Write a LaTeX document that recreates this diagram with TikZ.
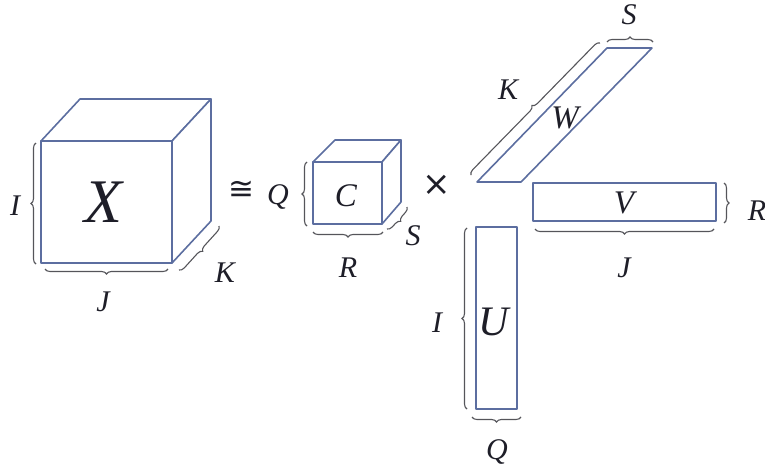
\documentclass[tikz,border=0pt]{standalone}
\usepackage{fontspec}
\setmainfont{Liberation Serif}
\newfontfamily\symfont{DejaVu Sans}
\usetikzlibrary{decorations.pathreplacing}
\definecolor{edge}{RGB}{92,110,160}
\definecolor{brc}{RGB}{85,85,90}
\definecolor{ink}{RGB}{30,30,40}
\tikzset{
  face/.style={draw=edge, line width=1.6pt, fill=white, line join=round},
  brc/.style={draw=brc, line width=1.1pt, decorate, decoration={brace, amplitude=5pt}},
  lab/.style={text=ink, inner sep=0pt, font=\fontsize{30}{30}\selectfont\itshape},
}
\begin{document}
\begin{tikzpicture}[x=1pt,y=-1pt]
\useasboundingbox (0,0) rectangle (765,471);
% ---- X cube
\coordinate (xa) at (41,141); \coordinate (xb) at (172,141);
\coordinate (xc) at (172,263); \coordinate (xd) at (41,263);
\coordinate (xe) at (80,99); \coordinate (xf) at (211,99); \coordinate (xg) at (211,221);
\draw[face] (xa) -- (xe) -- (xf) -- (xb) -- cycle;
\draw[face] (xb) -- (xf) -- (xg) -- (xc) -- cycle;
\draw[face] (xa) rectangle (xc);
\node[lab, font=\fontsize{62}{62}\selectfont\itshape] (X) at (103,202) {X};
\coordinate (bi1) at (36,264); \coordinate (bi2) at (36,143);
\draw[brc] (bi1) -- (bi2);
\node[lab] (lI) at (15,206) {I};
\coordinate (bj1) at (168,269); \coordinate (bj2) at (45,269);
\draw[brc] (bj1) -- (bj2);
\node[lab] (lJ) at (103,302) {J};
\coordinate (bk1) at (219,226); \coordinate (bk2) at (179,270);
\draw[brc] (bk1) -- (bk2);
\node[lab] (lK) at (225,273) {K};
% ---- congruent
\node[text=ink, inner sep=0pt, font=\fontsize{31}{31}\symfont] (cong) at (241,190) {≅};
% ---- C cube
\coordinate (ca) at (313,162); \coordinate (cb) at (382,162);
\coordinate (cc) at (382,224); \coordinate (cd) at (313,224);
\coordinate (ce) at (335,140); \coordinate (cf) at (401,140); \coordinate (cg) at (401,202);
\draw[face] (ca) -- (ce) -- (cf) -- (cb) -- cycle;
\draw[face] (cb) -- (cf) -- (cg) -- (cc) -- cycle;
\draw[face] (ca) rectangle (cc);
\node[lab, font=\fontsize{33}{33}\selectfont\itshape] (C) at (346,196) {C};
\coordinate (bq1) at (307,226); \coordinate (bq2) at (307,162);
\draw[brc] (bq1) -- (bq2);
\node[lab] (lQ) at (278,197) {Q};
\coordinate (br1) at (383,232); \coordinate (br2) at (313,232);
\draw[brc] (br1) -- (br2);
\node[lab] (lR) at (348,268) {R};
\coordinate (bs1) at (407,207); \coordinate (bs2) at (387,229);
\draw[brc] (bs1) -- (bs2);
\node[lab] (lS) at (413,236) {S};
% ---- times
\node[text=ink, inner sep=0pt, font=\fontsize{34}{34}\symfont] (times) at (437,185) {×};
% ---- W
\coordinate (wa) at (477,182); \coordinate (wb) at (521,182);
\coordinate (wc) at (652,48); \coordinate (wd) at (607,48);
\draw[face] (wa) -- (wb) -- (wc) -- (wd) -- cycle;
\node[lab, font=\fontsize{33}{33}\selectfont\itshape] (W) at (565,118) {W};
\coordinate (bwk1) at (471,175); \coordinate (bwk2) at (600,43);
\draw[brc] (bwk1) -- (bwk2);
\node[lab] (lK2) at (508,90) {K};
\coordinate (bws1) at (607,42); \coordinate (bws2) at (653,42);
\draw[brc] (bws1) -- (bws2);
\node[lab] (lS2) at (629,15) {S};
% ---- V
\coordinate (va) at (533,183); \coordinate (vc) at (716,221);
\draw[face] (va) rectangle (vc);
\node[lab, font=\fontsize{33}{33}\selectfont\itshape] (V) at (624,203) {V};
\coordinate (bvr1) at (724,183); \coordinate (bvr2) at (724,223);
\draw[brc] (bvr1) -- (bvr2);
\node[lab] (lR2) at (757,211) {R};
\coordinate (bvj1) at (714,229); \coordinate (bvj2) at (535,229);
\draw[brc] (bvj1) -- (bvj2);
\node[lab] (lJ2) at (624,268) {J};
% ---- U
\coordinate (ua) at (476,227); \coordinate (uc) at (517,409);
\draw[face] (ua) rectangle (uc);
\node[lab, font=\fontsize{42}{42}\selectfont\itshape] (U) at (494,322) {U};
\coordinate (bui1) at (467,409); \coordinate (bui2) at (467,228);
\draw[brc] (bui1) -- (bui2);
\node[lab] (lI2) at (437,323) {I};
\coordinate (buq1) at (521,417); \coordinate (buq2) at (472,417);
\draw[brc] (buq1) -- (buq2);
\node[lab] (lQ2) at (497,452) {Q};
\end{tikzpicture}
\end{document}
